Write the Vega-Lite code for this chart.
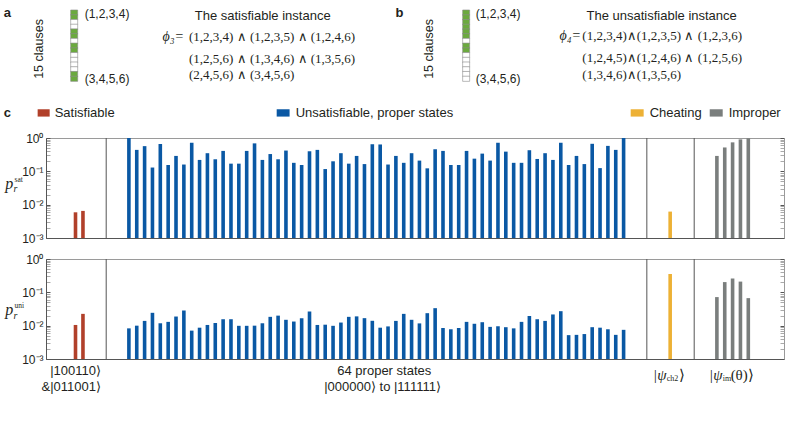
{
"$schema": "https://vega.github.io/schema/vega-lite/v6.json",
"padding": {"left": 3, "top": 0, "right": 0, "bottom": 0},
"autosize": {"type": "pad"},
"bounds": "flush",
"spacing": 21,
"config": {
  "font": "Liberation Sans",
  "view": {"stroke": "#9a9a9a", "strokeWidth": 1},
  "axis": {"grid": false},
  "axisX": {"labels": false, "ticks": false, "domainColor": "#555555", "domainWidth": 1},
  "text": {"font": "Liberation Sans", "fontSize": 12, "color": "#231F20"}
},
"datasets": {
  "clauses": [
    {"panel": "a", "clause": 1, "in": true}, {"panel": "a", "clause": 2, "in": true}, {"panel": "a", "clause": 3, "in": false},
    {"panel": "a", "clause": 4, "in": false}, {"panel": "a", "clause": 5, "in": true}, {"panel": "a", "clause": 6, "in": true},
    {"panel": "a", "clause": 7, "in": false}, {"panel": "a", "clause": 8, "in": true}, {"panel": "a", "clause": 9, "in": true},
    {"panel": "a", "clause": 10, "in": false}, {"panel": "a", "clause": 11, "in": false}, {"panel": "a", "clause": 12, "in": false},
    {"panel": "a", "clause": 13, "in": false}, {"panel": "a", "clause": 14, "in": true}, {"panel": "a", "clause": 15, "in": true},
    {"panel": "b", "clause": 1, "in": true}, {"panel": "b", "clause": 2, "in": true}, {"panel": "b", "clause": 3, "in": true},
    {"panel": "b", "clause": 4, "in": true}, {"panel": "b", "clause": 5, "in": true}, {"panel": "b", "clause": 6, "in": true},
    {"panel": "b", "clause": 7, "in": false}, {"panel": "b", "clause": 8, "in": true}, {"panel": "b", "clause": 9, "in": true},
    {"panel": "b", "clause": 10, "in": false}, {"panel": "b", "clause": 11, "in": false}, {"panel": "b", "clause": 12, "in": false},
    {"panel": "b", "clause": 13, "in": false}, {"panel": "b", "clause": 14, "in": false}, {"panel": "b", "clause": 15, "in": false}
  ],
  "bars": [
    {"cat": "Satisfiable", "pos": -5.8, "sat": 0.0059, "uni": 0.0105},
    {"cat": "Satisfiable", "pos": -4.85, "sat": 0.0065, "uni": 0.0226},
    {"cat": "Unsatisfiable", "pos": 1, "sat": 1.0, "uni": 0.0083},
    {"cat": "Unsatisfiable", "pos": 2, "sat": 0.44, "uni": 0.010},
    {"cat": "Unsatisfiable", "pos": 3, "sat": 0.57, "uni": 0.0139},
    {"cat": "Unsatisfiable", "pos": 4, "sat": 0.13, "uni": 0.0243},
    {"cat": "Unsatisfiable", "pos": 5, "sat": 0.66, "uni": 0.0118},
    {"cat": "Unsatisfiable", "pos": 6, "sat": 0.155, "uni": 0.0130},
    {"cat": "Unsatisfiable", "pos": 7, "sat": 0.29, "uni": 0.0188},
    {"cat": "Unsatisfiable", "pos": 8, "sat": 0.16, "uni": 0.0285},
    {"cat": "Unsatisfiable", "pos": 9, "sat": 0.72, "uni": 0.0071},
    {"cat": "Unsatisfiable", "pos": 10, "sat": 0.22, "uni": 0.0087},
    {"cat": "Unsatisfiable", "pos": 11, "sat": 0.35, "uni": 0.0105},
    {"cat": "Unsatisfiable", "pos": 12, "sat": 0.23, "uni": 0.012},
    {"cat": "Unsatisfiable", "pos": 13, "sat": 0.41, "uni": 0.0156},
    {"cat": "Unsatisfiable", "pos": 14, "sat": 0.17, "uni": 0.0156},
    {"cat": "Unsatisfiable", "pos": 15, "sat": 0.17, "uni": 0.0099},
    {"cat": "Unsatisfiable", "pos": 16, "sat": 0.41, "uni": 0.0099},
    {"cat": "Unsatisfiable", "pos": 17, "sat": 0.69, "uni": 0.010},
    {"cat": "Unsatisfiable", "pos": 18, "sat": 0.22, "uni": 0.0118},
    {"cat": "Unsatisfiable", "pos": 19, "sat": 0.33, "uni": 0.0184},
    {"cat": "Unsatisfiable", "pos": 20, "sat": 0.23, "uni": 0.020},
    {"cat": "Unsatisfiable", "pos": 21, "sat": 0.42, "uni": 0.015},
    {"cat": "Unsatisfiable", "pos": 22, "sat": 0.18, "uni": 0.0133},
    {"cat": "Unsatisfiable", "pos": 23, "sat": 0.155, "uni": 0.0168},
    {"cat": "Unsatisfiable", "pos": 24, "sat": 0.40, "uni": 0.0266},
    {"cat": "Unsatisfiable", "pos": 25, "sat": 0.44, "uni": 0.0105},
    {"cat": "Unsatisfiable", "pos": 26, "sat": 0.117, "uni": 0.0107},
    {"cat": "Unsatisfiable", "pos": 27, "sat": 0.20, "uni": 0.0099},
    {"cat": "Unsatisfiable", "pos": 28, "sat": 0.35, "uni": 0.0124},
    {"cat": "Unsatisfiable", "pos": 29, "sat": 0.17, "uni": 0.0184},
    {"cat": "Unsatisfiable", "pos": 30, "sat": 0.29, "uni": 0.019},
    {"cat": "Unsatisfiable", "pos": 31, "sat": 0.165, "uni": 0.0168},
    {"cat": "Unsatisfiable", "pos": 32, "sat": 0.65, "uni": 0.014},
    {"cat": "Unsatisfiable", "pos": 33, "sat": 0.64, "uni": 0.0087},
    {"cat": "Unsatisfiable", "pos": 34, "sat": 0.16, "uni": 0.0095},
    {"cat": "Unsatisfiable", "pos": 35, "sat": 0.29, "uni": 0.0139},
    {"cat": "Unsatisfiable", "pos": 36, "sat": 0.18, "uni": 0.0226},
    {"cat": "Unsatisfiable", "pos": 37, "sat": 0.35, "uni": 0.015},
    {"cat": "Unsatisfiable", "pos": 38, "sat": 0.21, "uni": 0.0117},
    {"cat": "Unsatisfiable", "pos": 39, "sat": 0.123, "uni": 0.0237},
    {"cat": "Unsatisfiable", "pos": 40, "sat": 0.46, "uni": 0.0335},
    {"cat": "Unsatisfiable", "pos": 41, "sat": 0.41, "uni": 0.0085},
    {"cat": "Unsatisfiable", "pos": 42, "sat": 0.155, "uni": 0.0078},
    {"cat": "Unsatisfiable", "pos": 43, "sat": 0.155, "uni": 0.0085},
    {"cat": "Unsatisfiable", "pos": 44, "sat": 0.41, "uni": 0.013},
    {"cat": "Unsatisfiable", "pos": 45, "sat": 0.24, "uni": 0.0114},
    {"cat": "Unsatisfiable", "pos": 46, "sat": 0.34, "uni": 0.0127},
    {"cat": "Unsatisfiable", "pos": 47, "sat": 0.21, "uni": 0.0092},
    {"cat": "Unsatisfiable", "pos": 48, "sat": 0.72, "uni": 0.0096},
    {"cat": "Unsatisfiable", "pos": 49, "sat": 0.39, "uni": 0.0090},
    {"cat": "Unsatisfiable", "pos": 50, "sat": 0.18, "uni": 0.0083},
    {"cat": "Unsatisfiable", "pos": 51, "sat": 0.18, "uni": 0.013},
    {"cat": "Unsatisfiable", "pos": 52, "sat": 0.43, "uni": 0.0195},
    {"cat": "Unsatisfiable", "pos": 53, "sat": 0.235, "uni": 0.0156},
    {"cat": "Unsatisfiable", "pos": 54, "sat": 0.35, "uni": 0.0139},
    {"cat": "Unsatisfiable", "pos": 55, "sat": 0.22, "uni": 0.0217},
    {"cat": "Unsatisfiable", "pos": 56, "sat": 0.72, "uni": 0.0272},
    {"cat": "Unsatisfiable", "pos": 57, "sat": 0.155, "uni": 0.0052},
    {"cat": "Unsatisfiable", "pos": 58, "sat": 0.29, "uni": 0.0053},
    {"cat": "Unsatisfiable", "pos": 59, "sat": 0.165, "uni": 0.0056},
    {"cat": "Unsatisfiable", "pos": 60, "sat": 0.67, "uni": 0.0090},
    {"cat": "Unsatisfiable", "pos": 61, "sat": 0.125, "uni": 0.0087},
    {"cat": "Unsatisfiable", "pos": 62, "sat": 0.58, "uni": 0.0078},
    {"cat": "Unsatisfiable", "pos": 63, "sat": 0.44, "uni": 0.0053},
    {"cat": "Unsatisfiable", "pos": 64, "sat": 1.0, "uni": 0.0075},
    {"cat": "Cheating", "pos": 69.93, "sat": 0.0062, "uni": 0.355},
    {"cat": "Improper", "pos": 75.88, "sat": 0.29, "uni": 0.072},
    {"cat": "Improper", "pos": 76.88, "sat": 0.52, "uni": 0.203},
    {"cat": "Improper", "pos": 77.88, "sat": 0.74, "uni": 0.26},
    {"cat": "Improper", "pos": 78.88, "sat": 0.91, "uni": 0.21},
    {"cat": "Improper", "pos": 79.88, "sat": 0.98, "uni": 0.067}
  ]
},
"vconcat": [
  {
    "width": 738, "height": 117,
    "view": {"stroke": null},
    "data": {"values": [{}]},
    "layer": [
      {"data": {"name": "clauses"}, "transform": [{"filter": "datum.panel == 'a'"}],
       "mark": {"type": "bar", "orient": "horizontal", "size": 5.17, "stroke": "#8c8c8c", "strokeWidth": 0.6},
       "encoding": {
         "x": {"datum": -5.82, "type": "quantitative", "scale": {"domain": [-8.92, 83.79], "nice": false, "zero": false}, "axis": null},
         "x2": {"datum": -4.94},
         "y": {"field": "clause", "type": "quantitative", "scale": {"domain": [-0.6025, 22.03], "reverse": true, "nice": false, "zero": false}, "axis": null},
         "color": {"condition": {"test": "datum.in", "value": "#6BAA3E"}, "value": "#ffffff"}
       }},
      {"data": {"name": "clauses"}, "transform": [{"filter": "datum.panel == 'b'"}],
       "mark": {"type": "bar", "orient": "horizontal", "size": 5.17, "stroke": "#8c8c8c", "strokeWidth": 0.6},
       "encoding": {
         "x": {"datum": 43.42, "type": "quantitative", "axis": null},
         "x2": {"datum": 44.30},
         "y": {"field": "clause", "type": "quantitative", "axis": null},
         "color": {"condition": {"test": "datum.in", "value": "#6BAA3E"}, "value": "#ffffff"}
       }},
      {"mark": {"type": "text", "text": "a", "fontWeight": "bold", "fontSize": 13, "align": "left", "baseline": "middle"},
       "encoding": {"x": {"datum": -14.24, "axis": null}, "y": {"datum": 1.14, "axis": null}}},
      {"mark": {"type": "text", "text": "b", "fontWeight": "bold", "fontSize": 13, "align": "left", "baseline": "middle"},
       "encoding": {"x": {"datum": 35.0, "axis": null}, "y": {"datum": 1.14, "axis": null}}},
      {"mark": {"type": "text", "text": "c", "fontWeight": "bold", "fontSize": 13, "align": "left", "baseline": "middle"},
       "encoding": {"x": {"datum": -14.24, "axis": null}, "y": {"datum": 22.22, "axis": null}}},
      {"mark": {"type": "text", "text": "15 clauses", "fontSize": 12.5, "angle": 270, "align": "center", "baseline": "middle"},
       "encoding": {"x": {"datum": -9.78, "axis": null}, "y": {"datum": 8.7, "axis": null}}},
      {"mark": {"type": "text", "text": "15 clauses", "fontSize": 12.5, "angle": 270, "align": "center", "baseline": "middle"},
       "encoding": {"x": {"datum": 39.22, "axis": null}, "y": {"datum": 8.7, "axis": null}}},
      {"mark": {"type": "text", "text": "(1,2,3,4)", "fontSize": 12, "align": "left", "baseline": "middle"},
       "encoding": {"x": {"datum": -4.06, "axis": null}, "y": {"datum": 1.33, "axis": null}}},
      {"mark": {"type": "text", "text": "(3,4,5,6)", "fontSize": 12, "align": "left", "baseline": "middle"},
       "encoding": {"x": {"datum": -4.06, "axis": null}, "y": {"datum": 15.07, "axis": null}}},
      {"mark": {"type": "text", "text": "(1,2,3,4)", "fontSize": 12, "align": "left", "baseline": "middle"},
       "encoding": {"x": {"datum": 45.06, "axis": null}, "y": {"datum": 1.33, "axis": null}}},
      {"mark": {"type": "text", "text": "(3,4,5,6)", "fontSize": 12, "align": "left", "baseline": "middle"},
       "encoding": {"x": {"datum": 45.06, "axis": null}, "y": {"datum": 15.07, "axis": null}}},
      {"mark": {"type": "text", "text": "The satisfiable instance", "fontSize": 13, "align": "center", "baseline": "middle"},
       "encoding": {"x": {"datum": 18.30, "axis": null}, "y": {"datum": 1.82, "axis": null}}},
      {"mark": {"type": "text", "text": "The unsatisfiable instance", "fontSize": 13, "align": "center", "baseline": "middle"},
       "encoding": {"x": {"datum": 68.42, "axis": null}, "y": {"datum": 1.82, "axis": null}}},
      {"mark": {"type": "text", "text": "ϕ₃=", "font": "Liberation Serif", "fontStyle": "italic", "fontSize": 14, "align": "right", "baseline": "middle"},
       "encoding": {"x": {"datum": 8.41, "axis": null}, "y": {"datum": 6.17, "axis": null}}},
      {"mark": {"type": "text", "text": "(1,2,3,4) ∧ (1,2,3,5) ∧ (1,2,4,6)", "font": "Liberation Serif", "fontSize": 13, "align": "left", "baseline": "middle"},
       "encoding": {"x": {"datum": 9.04, "axis": null}, "y": {"datum": 6.17, "axis": null}}},
      {"mark": {"type": "text", "text": "(1,2,5,6) ∧ (1,3,4,6) ∧ (1,3,5,6)", "font": "Liberation Serif", "fontSize": 13, "align": "left", "baseline": "middle"},
       "encoding": {"x": {"datum": 9.04, "axis": null}, "y": {"datum": 10.81, "axis": null}}},
      {"mark": {"type": "text", "text": "(2,4,5,6) ∧ (3,4,5,6)", "font": "Liberation Serif", "fontSize": 13, "align": "left", "baseline": "middle"},
       "encoding": {"x": {"datum": 9.04, "axis": null}, "y": {"datum": 14.1, "axis": null}}},
      {"mark": {"type": "text", "text": "ϕ₄=", "font": "Liberation Serif", "fontStyle": "italic", "fontSize": 14, "align": "right", "baseline": "middle"},
       "encoding": {"x": {"datum": 58.29, "axis": null}, "y": {"datum": 6.01, "axis": null}}},
      {"mark": {"type": "text", "text": "(1,2,3,4)∧(1,2,3,5) ∧ (1,2,3,6)", "font": "Liberation Serif", "fontSize": 13, "align": "left", "baseline": "middle"},
       "encoding": {"x": {"datum": 58.46, "axis": null}, "y": {"datum": 6.01, "axis": null}}},
      {"mark": {"type": "text", "text": "(1,2,4,5)∧(1,2,4,6) ∧ (1,2,5,6)", "font": "Liberation Serif", "fontSize": 13, "align": "left", "baseline": "middle"},
       "encoding": {"x": {"datum": 58.46, "axis": null}, "y": {"datum": 10.62, "axis": null}}},
      {"mark": {"type": "text", "text": "(1,3,4,6)∧(1,3,5,6)", "font": "Liberation Serif", "fontSize": 13, "align": "left", "baseline": "middle"},
       "encoding": {"x": {"datum": 58.46, "axis": null}, "y": {"datum": 14.1, "axis": null}}},
      {"mark": {"type": "rect", "color": "#B1402A"},
       "encoding": {"x": {"datum": -9.97, "axis": null}, "x2": {"datum": -8.46}, "y": {"datum": 21.45, "axis": null}, "y2": {"datum": 23.0}}},
      {"mark": {"type": "text", "text": "Satisfiable", "fontSize": 13, "align": "left", "baseline": "middle"},
       "encoding": {"x": {"datum": -7.83, "axis": null}, "y": {"datum": 22.22, "axis": null}}},
      {"mark": {"type": "rect", "color": "#0A58A4"},
       "encoding": {"x": {"datum": 20.06, "axis": null}, "x2": {"datum": 21.68}, "y": {"datum": 21.45, "axis": null}, "y2": {"datum": 23.0}}},
      {"mark": {"type": "text", "text": "Unsatisfiable, proper states", "fontSize": 13, "align": "left", "baseline": "middle"},
       "encoding": {"x": {"datum": 22.44, "axis": null}, "y": {"datum": 22.22, "axis": null}}},
      {"mark": {"type": "rect", "color": "#EDB135"},
       "encoding": {"x": {"datum": 64.53, "axis": null}, "x2": {"datum": 66.16}, "y": {"datum": 21.45, "axis": null}, "y2": {"datum": 23.0}}},
      {"mark": {"type": "text", "text": "Cheating", "fontSize": 13, "align": "left", "baseline": "middle"},
       "encoding": {"x": {"datum": 66.91, "axis": null}, "y": {"datum": 22.22, "axis": null}}},
      {"mark": {"type": "rect", "color": "#7A7E7D"},
       "encoding": {"x": {"datum": 74.46, "axis": null}, "x2": {"datum": 76.09}, "y": {"datum": 21.45, "axis": null}, "y2": {"datum": 23.0}}},
      {"mark": {"type": "text", "text": "Improper", "fontSize": 13, "align": "left", "baseline": "middle"},
       "encoding": {"x": {"datum": 76.84, "axis": null}, "y": {"datum": 22.22, "axis": null}}}
    ]
  },
  {
    "width": 738, "height": 100,
    "resolve": {"axis": {"y": "independent"}},
    "layer": [
      {"data": {"name": "bars"},
       "mark": {"type": "bar", "size": 3.6},
       "encoding": {
         "x": {"field": "pos", "type": "quantitative", "scale": {"domain": [-8.92, 83.79], "nice": false, "zero": false}, "title": null},
         "y": {"field": "sat", "type": "quantitative", "scale": {"type": "log", "domain": [0.001, 1], "nice": false}, "title": null,
               "axis": {"orient": "left", "values": [0.001,0.002,0.003,0.004,0.005,0.006,0.007,0.008,0.009,0.01,0.02,0.03,0.04,0.05,0.06,0.07,0.08,0.09,0.1,0.2,0.3,0.4,0.5,0.6,0.7,0.8,0.9,1],
                        "labelExpr": "datum.value == 1 ? '10⁰' : datum.value == 0.1 ? '10⁻¹' : datum.value == 0.01 ? '10⁻²' : datum.value == 0.001 ? '10⁻³' : ''",
                        "labelOverlap": false, "labelFlush": false, "labelBound": false, "labelFontSize": 12, "labelColor": "#231F20", "labelPadding": 7,
                        "tickSize": -4, "tickColor": {"condition": {"test": "datum.value == 1 || datum.value == 0.1 || datum.value == 0.01 || datum.value == 0.001", "value": "#555555"}, "value": "#aaaaaa"},
                        "domainColor": "#555555", "grid": false, "title": null}},
         "y2": {"datum": 0.001},
         "color": {"field": "cat", "type": "nominal", "scale": {"domain": ["Satisfiable", "Unsatisfiable", "Cheating", "Improper"], "range": ["#B1402A", "#0A58A4", "#EDB135", "#7A7E7D"]}, "legend": null}
       }},
      {"data": {"name": "bars"},
       "mark": {"type": "point", "opacity": 0},
       "encoding": {
         "x": {"field": "pos", "type": "quantitative", "title": null},
         "y": {"field": "sat", "type": "quantitative", "scale": {"type": "log"}, "title": null,
               "axis": {"orient": "right", "values": [0.001,0.002,0.003,0.004,0.005,0.006,0.007,0.008,0.009,0.01,0.02,0.03,0.04,0.05,0.06,0.07,0.08,0.09,0.1,0.2,0.3,0.4,0.5,0.6,0.7,0.8,0.9,1],
                        "labels": false, "tickSize": -4, "tickColor": {"condition": {"test": "datum.value == 1 || datum.value == 0.1 || datum.value == 0.01 || datum.value == 0.001", "value": "#555555"}, "value": "#aaaaaa"},
                        "domainColor": "#9a9a9a", "grid": false, "title": null}}
       }},
      {"data": {"values": [{}]}, "mark": {"type": "rule", "color": "#555555", "strokeWidth": 1}, "encoding": {"x": {"datum": -1.89}}},
      {"data": {"values": [{}]}, "mark": {"type": "rule", "color": "#555555", "strokeWidth": 1}, "encoding": {"x": {"datum": 66.96}}},
      {"data": {"values": [{}]}, "mark": {"type": "rule", "color": "#555555", "strokeWidth": 1}, "encoding": {"x": {"datum": 72.99}}},
      {"data": {"values": [{}]}, "mark": {"type": "text", "text": "p", "font": "Liberation Serif", "fontStyle": "italic", "fontSize": 16, "align": "left", "baseline": "alphabetic"},
       "encoding": {"x": {"datum": -14.74}, "y": {"datum": 0.0295, "scale": {"type": "log"}, "axis": null}}},
      {"data": {"values": [{}]}, "mark": {"type": "text", "text": "sat", "font": "Liberation Serif", "fontSize": 7.5, "align": "left", "baseline": "alphabetic"},
       "encoding": {"x": {"datum": -13.56}, "y": {"datum": 0.049, "scale": {"type": "log"}, "axis": null}}},
      {"data": {"values": [{}]}, "mark": {"type": "text", "text": "r", "font": "Liberation Serif", "fontStyle": "italic", "fontSize": 10, "align": "left", "baseline": "alphabetic"},
       "encoding": {"x": {"datum": -13.71}, "y": {"datum": 0.024, "scale": {"type": "log"}, "axis": null}}}
    ]
  },
  {
    "width": 738, "height": 100,
    "resolve": {"axis": {"y": "independent"}},
    "layer": [
      {"data": {"name": "bars"},
       "mark": {"type": "bar", "size": 3.6},
       "encoding": {
         "x": {"field": "pos", "type": "quantitative", "scale": {"domain": [-8.92, 83.79], "nice": false, "zero": false}, "title": null},
         "y": {"field": "uni", "type": "quantitative", "scale": {"type": "log", "domain": [0.001, 1], "nice": false}, "title": null,
               "axis": {"orient": "left", "values": [0.001,0.002,0.003,0.004,0.005,0.006,0.007,0.008,0.009,0.01,0.02,0.03,0.04,0.05,0.06,0.07,0.08,0.09,0.1,0.2,0.3,0.4,0.5,0.6,0.7,0.8,0.9,1],
                        "labelExpr": "datum.value == 1 ? '10⁰' : datum.value == 0.1 ? '10⁻¹' : datum.value == 0.01 ? '10⁻²' : datum.value == 0.001 ? '10⁻³' : ''",
                        "labelOverlap": false, "labelFlush": false, "labelBound": false, "labelFontSize": 12, "labelColor": "#231F20", "labelPadding": 7,
                        "tickSize": -4, "tickColor": {"condition": {"test": "datum.value == 1 || datum.value == 0.1 || datum.value == 0.01 || datum.value == 0.001", "value": "#555555"}, "value": "#aaaaaa"},
                        "domainColor": "#555555", "grid": false, "title": null}},
         "y2": {"datum": 0.001},
         "color": {"field": "cat", "type": "nominal", "scale": {"domain": ["Satisfiable", "Unsatisfiable", "Cheating", "Improper"], "range": ["#B1402A", "#0A58A4", "#EDB135", "#7A7E7D"]}, "legend": null}
       }},
      {"data": {"name": "bars"},
       "mark": {"type": "point", "opacity": 0},
       "encoding": {
         "x": {"field": "pos", "type": "quantitative", "title": null},
         "y": {"field": "uni", "type": "quantitative", "scale": {"type": "log"}, "title": null,
               "axis": {"orient": "right", "values": [0.001,0.002,0.003,0.004,0.005,0.006,0.007,0.008,0.009,0.01,0.02,0.03,0.04,0.05,0.06,0.07,0.08,0.09,0.1,0.2,0.3,0.4,0.5,0.6,0.7,0.8,0.9,1],
                        "labels": false, "tickSize": -4, "tickColor": {"condition": {"test": "datum.value == 1 || datum.value == 0.1 || datum.value == 0.01 || datum.value == 0.001", "value": "#555555"}, "value": "#aaaaaa"},
                        "domainColor": "#9a9a9a", "grid": false, "title": null}}
       }},
      {"data": {"values": [{}]}, "mark": {"type": "rule", "color": "#555555", "strokeWidth": 1}, "encoding": {"x": {"datum": -1.89}}},
      {"data": {"values": [{}]}, "mark": {"type": "rule", "color": "#555555", "strokeWidth": 1}, "encoding": {"x": {"datum": 66.96}}},
      {"data": {"values": [{}]}, "mark": {"type": "rule", "color": "#555555", "strokeWidth": 1}, "encoding": {"x": {"datum": 72.99}}},
      {"data": {"values": [{}]}, "mark": {"type": "text", "text": "p", "font": "Liberation Serif", "fontStyle": "italic", "fontSize": 16, "align": "left", "baseline": "alphabetic"},
       "encoding": {"x": {"datum": -14.74}, "y": {"datum": 0.0203, "scale": {"type": "log"}, "axis": null}}},
      {"data": {"values": [{}]}, "mark": {"type": "text", "text": "uni", "font": "Liberation Serif", "fontSize": 7.5, "align": "left", "baseline": "alphabetic"},
       "encoding": {"x": {"datum": -13.56}, "y": {"datum": 0.0335, "scale": {"type": "log"}, "axis": null}}},
      {"data": {"values": [{}]}, "mark": {"type": "text", "text": "r", "font": "Liberation Serif", "fontStyle": "italic", "fontSize": 10, "align": "left", "baseline": "alphabetic"},
       "encoding": {"x": {"datum": -13.71}, "y": {"datum": 0.0159, "scale": {"type": "log"}, "axis": null}}},
      {"data": {"values": [{}]}, "mark": {"type": "text", "text": "|100110⟩", "fontSize": 13, "align": "right", "baseline": "middle"},
       "encoding": {"x": {"datum": -2.56}, "y": {"datum": 0.000432, "scale": {"type": "log"}, "axis": null}}},
      {"data": {"values": [{}]}, "mark": {"type": "text", "text": "&|011001⟩", "fontSize": 13, "align": "right", "baseline": "middle"},
       "encoding": {"x": {"datum": -2.56}, "y": {"datum": 0.0001425, "scale": {"type": "log"}, "axis": null}}},
      {"data": {"values": [{}]}, "mark": {"type": "text", "text": "64 proper states", "fontSize": 13, "align": "center", "baseline": "middle"},
       "encoding": {"x": {"datum": 33.52}, "y": {"datum": 0.000432, "scale": {"type": "log"}, "axis": null}}},
      {"data": {"values": [{}]}, "mark": {"type": "text", "text": "|000000⟩  to  |111111⟩", "fontSize": 13, "align": "center", "baseline": "middle"},
       "encoding": {"x": {"datum": 33.3}, "y": {"datum": 0.0001425, "scale": {"type": "log"}, "axis": null}}},
      {"data": {"values": [{}]}, "mark": {"type": "text", "text": "|ψ", "font": "Liberation Serif", "fontStyle": "italic", "fontSize": 15, "align": "right", "baseline": "middle"},
       "encoding": {"x": {"datum": 69.47}, "y": {"datum": 0.000327, "scale": {"type": "log"}, "axis": null}}},
      {"data": {"values": [{}]}, "mark": {"type": "text", "text": "ch2", "font": "Liberation Serif", "fontSize": 8, "align": "left", "baseline": "middle"},
       "encoding": {"x": {"datum": 69.5}, "y": {"datum": 0.00025, "scale": {"type": "log"}, "axis": null}}},
      {"data": {"values": [{}]}, "mark": {"type": "text", "text": "⟩", "font": "Liberation Serif", "fontSize": 15, "align": "left", "baseline": "middle"},
       "encoding": {"x": {"datum": 71.06}, "y": {"datum": 0.000327, "scale": {"type": "log"}, "axis": null}}},
      {"data": {"values": [{}]}, "mark": {"type": "text", "text": "|ψ", "font": "Liberation Serif", "fontStyle": "italic", "fontSize": 15, "align": "right", "baseline": "middle"},
       "encoding": {"x": {"datum": 76.59}, "y": {"datum": 0.000327, "scale": {"type": "log"}, "axis": null}}},
      {"data": {"values": [{}]}, "mark": {"type": "text", "text": "im", "font": "Liberation Serif", "fontSize": 8, "align": "left", "baseline": "middle"},
       "encoding": {"x": {"datum": 76.62}, "y": {"datum": 0.00025, "scale": {"type": "log"}, "axis": null}}},
      {"data": {"values": [{}]}, "mark": {"type": "text", "text": "(θ)⟩", "font": "Liberation Serif", "fontSize": 15, "align": "left", "baseline": "middle"},
       "encoding": {"x": {"datum": 77.63}, "y": {"datum": 0.000327, "scale": {"type": "log"}, "axis": null}}}
    ]
  }
]
}
